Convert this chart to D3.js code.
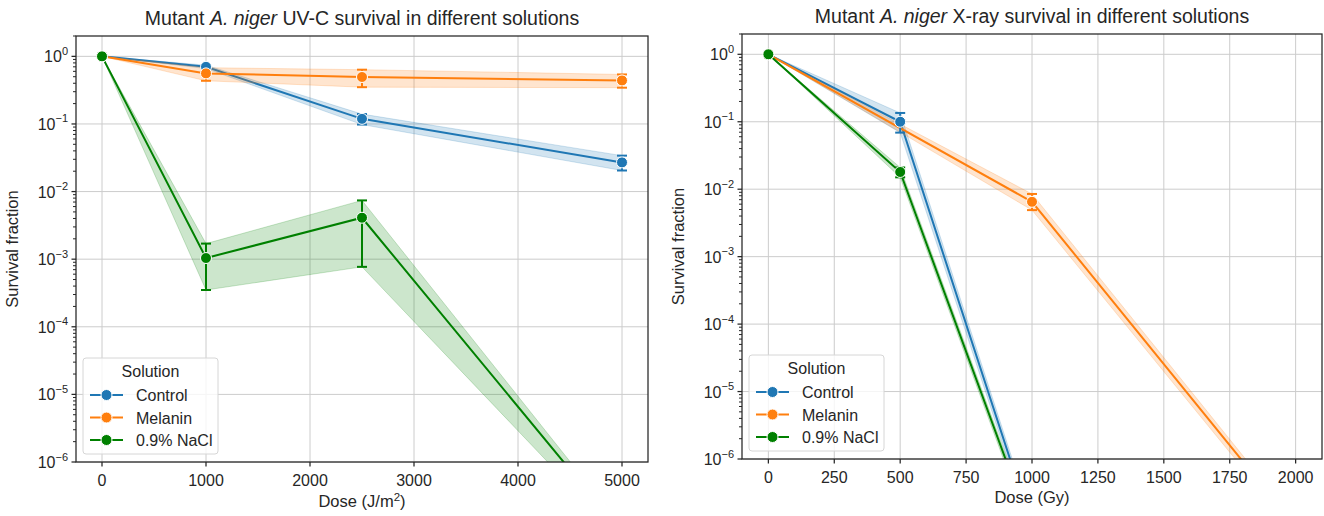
<!DOCTYPE html>
<html>
<head>
<meta charset="utf-8">
<script src="https://cdn.jsdelivr.net/npm/d3@7"></script>
<style>
  html, body { margin: 0; padding: 0; background: #fff; }
  svg { display: block; font-family: "Liberation Sans", Arial, sans-serif; }
</style>
</head>
<body>
<svg id="chart" width="1324" height="516"></svg>
<script>
// ---- UV-C survival (dose in J/m^2) ----
const uvDoses        = [0, 1000, 2500, 5000];
const uvControl      = [1, 0.70, 0.119, 0.027];
const uvControlLo    = [1, 0.66, 0.098, 0.0205];
const uvControlHi    = [1, 0.74, 0.140, 0.034];
const uvMelanin      = [1, 0.56, 0.495, 0.44];
const uvMelaninLo    = [1, 0.435, 0.35, 0.344];
const uvMelaninHi    = [1, 0.68, 0.635, 0.54];
const uvNaCl         = [1, 0.00104, 0.0041, 9e-8];
const uvNaClLo       = [1, 0.00035, 0.00077, 7e-8];
const uvNaClHi       = [1, 0.0017, 0.0074, 1.1e-7];

// ---- X-ray survival (dose in Gy) ----
const xrControlDoses = [0, 500, 1000];
const xrControl      = [1, 0.100, 1.0e-7];
const xrControlLo    = [1, 0.069, 8.0e-8];
const xrControlHi    = [1, 0.135, 1.25e-7];
const xrMelaninDoses = [0, 1000, 2000];
const xrMelanin      = [1, 0.0065, 1.0e-7];
const xrMelaninLo    = [1, 0.0049, 8.0e-8];
const xrMelaninHi    = [1, 0.0085, 1.2e-7];
const xrNaClDoses    = [0, 500, 1000];
const xrNaCl         = [1, 0.018, 8.5e-8];
const xrNaClLo       = [1, 0.015, 7.0e-8];
const xrNaClHi       = [1, 0.021, 1.0e-7];

const seriesNames  = ["Control", "Melanin", "0.9% NaCl"];
const seriesColors = ["#1f77b4", "#ff7f0e", "#008000"];

const uvTicks  = [0, 1000, 2000, 3000, 4000, 5000];
const xrTicks  = [0, 250, 500, 750, 1000, 1250, 1500, 1750, 2000];
const yExponents = [0, -1, -2, -3, -4, -5, -6];

const TEXT = "#262626";
const GRID = "#cccccc";
const svg = d3.select("#chart");

function makeSeries(dosesList, means, los, his) {
  return seriesNames.map((name, i) => ({
    name, color: seriesColors[i],
    pts: dosesList[i].map((d, j) => ({ d, m: means[i][j], lo: los[i][j], hi: his[i][j] }))
  }));
}

function drawPanel(cfg) {
  const { left, right, top, bottom, id } = cfg;
  const x = d3.scaleLinear().domain(cfg.xDomain).range([left, right]);
  const y = d3.scaleLog().domain([1e-6, 2]).range([bottom, top]);
  const g = svg.append("g");

  g.append("clipPath").attr("id", id).append("rect")
    .attr("x", left).attr("y", top).attr("width", right - left).attr("height", bottom - top);

  // grid
  g.selectAll(".gx").data(cfg.xTicks).join("line")
    .attr("x1", d => x(d)).attr("x2", d => x(d)).attr("y1", top).attr("y2", bottom)
    .attr("stroke", GRID).attr("stroke-width", 1);
  g.selectAll(".gy").data(yExponents).join("line")
    .attr("y1", e => y(Math.pow(10, e))).attr("y2", e => y(Math.pow(10, e)))
    .attr("x1", left).attr("x2", right)
    .attr("stroke", GRID).attr("stroke-width", 1);

  const plot = g.append("g").attr("clip-path", `url(#${id})`);
  const area = d3.area().x(p => x(p.d)).y0(p => y(p.lo)).y1(p => y(p.hi));
  const line = d3.line().x(p => x(p.d)).y(p => y(p.m));

  cfg.series.forEach(s => {
    plot.append("path").attr("d", area(s.pts))
      .attr("fill", s.color).attr("fill-opacity", 0.2)
      .attr("stroke", s.color).attr("stroke-opacity", 0.2).attr("stroke-width", 1);
    plot.append("path").attr("d", line(s.pts))
      .attr("fill", "none").attr("stroke", s.color).attr("stroke-width", 2);
  });

  // error bars with caps, then markers on top
  cfg.series.forEach(s => {
    const eb = s.pts.filter(p => p.hi > p.lo && p.d > 0);
    eb.forEach(p => {
      const cx = x(p.d);
      plot.append("line").attr("x1", cx).attr("x2", cx).attr("y1", y(p.lo)).attr("y2", y(p.hi))
        .attr("stroke", s.color).attr("stroke-width", 2);
      [p.lo, p.hi].forEach(v => {
        plot.append("line").attr("x1", cx - 5).attr("x2", cx + 5).attr("y1", y(v)).attr("y2", y(v))
          .attr("stroke", s.color).attr("stroke-width", 2);
      });
    });
  });
  cfg.series.forEach(s => {
    plot.selectAll(null).data(s.pts).join("circle")
      .attr("cx", p => x(p.d)).attr("cy", p => y(p.m)).attr("r", 5.5)
      .attr("fill", s.color).attr("stroke", "#fff").attr("stroke-width", 1);
  });

  // spines
  g.append("rect").attr("x", left).attr("y", top).attr("width", right - left).attr("height", bottom - top)
    .attr("fill", "none").attr("stroke", TEXT).attr("stroke-width", 1.25);

  // x ticks
  g.selectAll(".xt").data(cfg.xTicks).join("line")
    .attr("x1", d => x(d)).attr("x2", d => x(d)).attr("y1", bottom).attr("y2", bottom + 4.5)
    .attr("stroke", TEXT).attr("stroke-width", 1.25);
  g.selectAll(".xl").data(cfg.xTicks).join("text")
    .attr("x", d => x(d)).attr("y", bottom + 24).attr("text-anchor", "middle")
    .attr("font-size", 16).attr("fill", TEXT).text(d => d);

  // y ticks: majors with 10^n labels, minors 2..9
  const minors = [];
  for (let e = -6; e <= 0; e++) for (let k = 2; k <= 9; k++) {
    const v = k * Math.pow(10, e);
    if (v <= 2) minors.push(v);
  }
  g.selectAll(".ym").data(minors).join("line")
    .attr("x1", left - 3).attr("x2", left).attr("y1", v => y(v)).attr("y2", v => y(v))
    .attr("stroke", TEXT).attr("stroke-width", 1);
  g.selectAll(".yt").data(yExponents).join("line")
    .attr("x1", left - 4.5).attr("x2", left).attr("y1", e => y(Math.pow(10, e))).attr("y2", e => y(Math.pow(10, e)))
    .attr("stroke", TEXT).attr("stroke-width", 1.25);
  yExponents.forEach(e => {
    const yy = y(Math.pow(10, e));
    const sup = e === 0 ? "0" : "\u2212" + Math.abs(e);
    const t = g.append("text").attr("x", left - 8).attr("y", yy + 6)
      .attr("text-anchor", "end").attr("fill", TEXT).attr("font-size", 16);
    t.append("tspan").text("10");
    t.append("tspan").attr("dy", -7.5).attr("font-size", 11).text(sup);
  });

  // axis labels
  const xl = g.append("text").attr("x", (left + right) / 2).attr("y", cfg.xLabelY)
    .attr("text-anchor", "middle").attr("font-size", 16.5).attr("fill", TEXT);
  cfg.xLabel(xl);
  g.append("text").attr("transform", `translate(${left - 58},${(top + bottom) / 2}) rotate(-90)`)
    .attr("text-anchor", "middle").attr("font-size", 16.5).attr("fill", TEXT).text("Survival fraction");

  // title
  const tt = g.append("text").attr("x", (left + right) / 2).attr("y", top - 11)
    .attr("text-anchor", "middle").attr("font-size", 19.5).attr("fill", TEXT);
  tt.append("tspan").text("Mutant ");
  tt.append("tspan").attr("font-style", "italic").text("A. niger");
  tt.append("tspan").text(" " + cfg.titleRest);

  // legend
  const lx = left + 7, lh = 96, lw = 135, ly = bottom - 8 - lh;
  const lg = g.append("g");
  lg.append("rect").attr("x", lx).attr("y", ly).attr("width", lw).attr("height", lh)
    .attr("rx", 3).attr("fill", "#fff").attr("fill-opacity", 0.8)
    .attr("stroke", "#d6d6d6").attr("stroke-width", 1);
  lg.append("text").attr("x", lx + lw / 2).attr("y", ly + 19).attr("text-anchor", "middle")
    .attr("font-size", 16).attr("fill", TEXT).text("Solution");
  seriesNames.forEach((n, i) => {
    const cy = ly + 37 + i * 22.5;
    lg.append("line").attr("x1", lx + 7).attr("x2", lx + 40).attr("y1", cy).attr("y2", cy)
      .attr("stroke", seriesColors[i]).attr("stroke-width", 2);
    lg.append("circle").attr("cx", lx + 23.5).attr("cy", cy).attr("r", 5.5)
      .attr("fill", seriesColors[i]).attr("stroke", "#fff").attr("stroke-width", 1);
    lg.append("text").attr("x", lx + 53).attr("y", cy + 6).attr("font-size", 16)
      .attr("fill", TEXT).text(n);
  });
}

drawPanel({
  id: "clipUV", left: 76, right: 648, top: 36, bottom: 462,
  xDomain: [-250, 5250], xTicks: uvTicks, xLabelY: 507,
  titleRest: "UV-C survival in different solutions",
  xLabel: t => {
    t.append("tspan").text("Dose (J/m");
    t.append("tspan").attr("dy", -6.5).attr("font-size", 11.5).text("2");
    t.append("tspan").attr("dy", 6.5).text(")");
  },
  series: makeSeries([uvDoses, uvDoses, uvDoses],
    [uvControl, uvMelanin, uvNaCl], [uvControlLo, uvMelaninLo, uvNaClLo], [uvControlHi, uvMelaninHi, uvNaClHi])
});

drawPanel({
  id: "clipXR", left: 742, right: 1322, top: 34, bottom: 459,
  xDomain: [-100, 2100], xTicks: xrTicks, xLabelY: 503,
  titleRest: "X-ray survival in different solutions",
  xLabel: t => t.text("Dose (Gy)"),
  series: makeSeries([xrControlDoses, xrMelaninDoses, xrNaClDoses],
    [xrControl, xrMelanin, xrNaCl], [xrControlLo, xrMelaninLo, xrNaClLo], [xrControlHi, xrMelaninHi, xrNaClHi])
});
</script>
</body>
</html>
